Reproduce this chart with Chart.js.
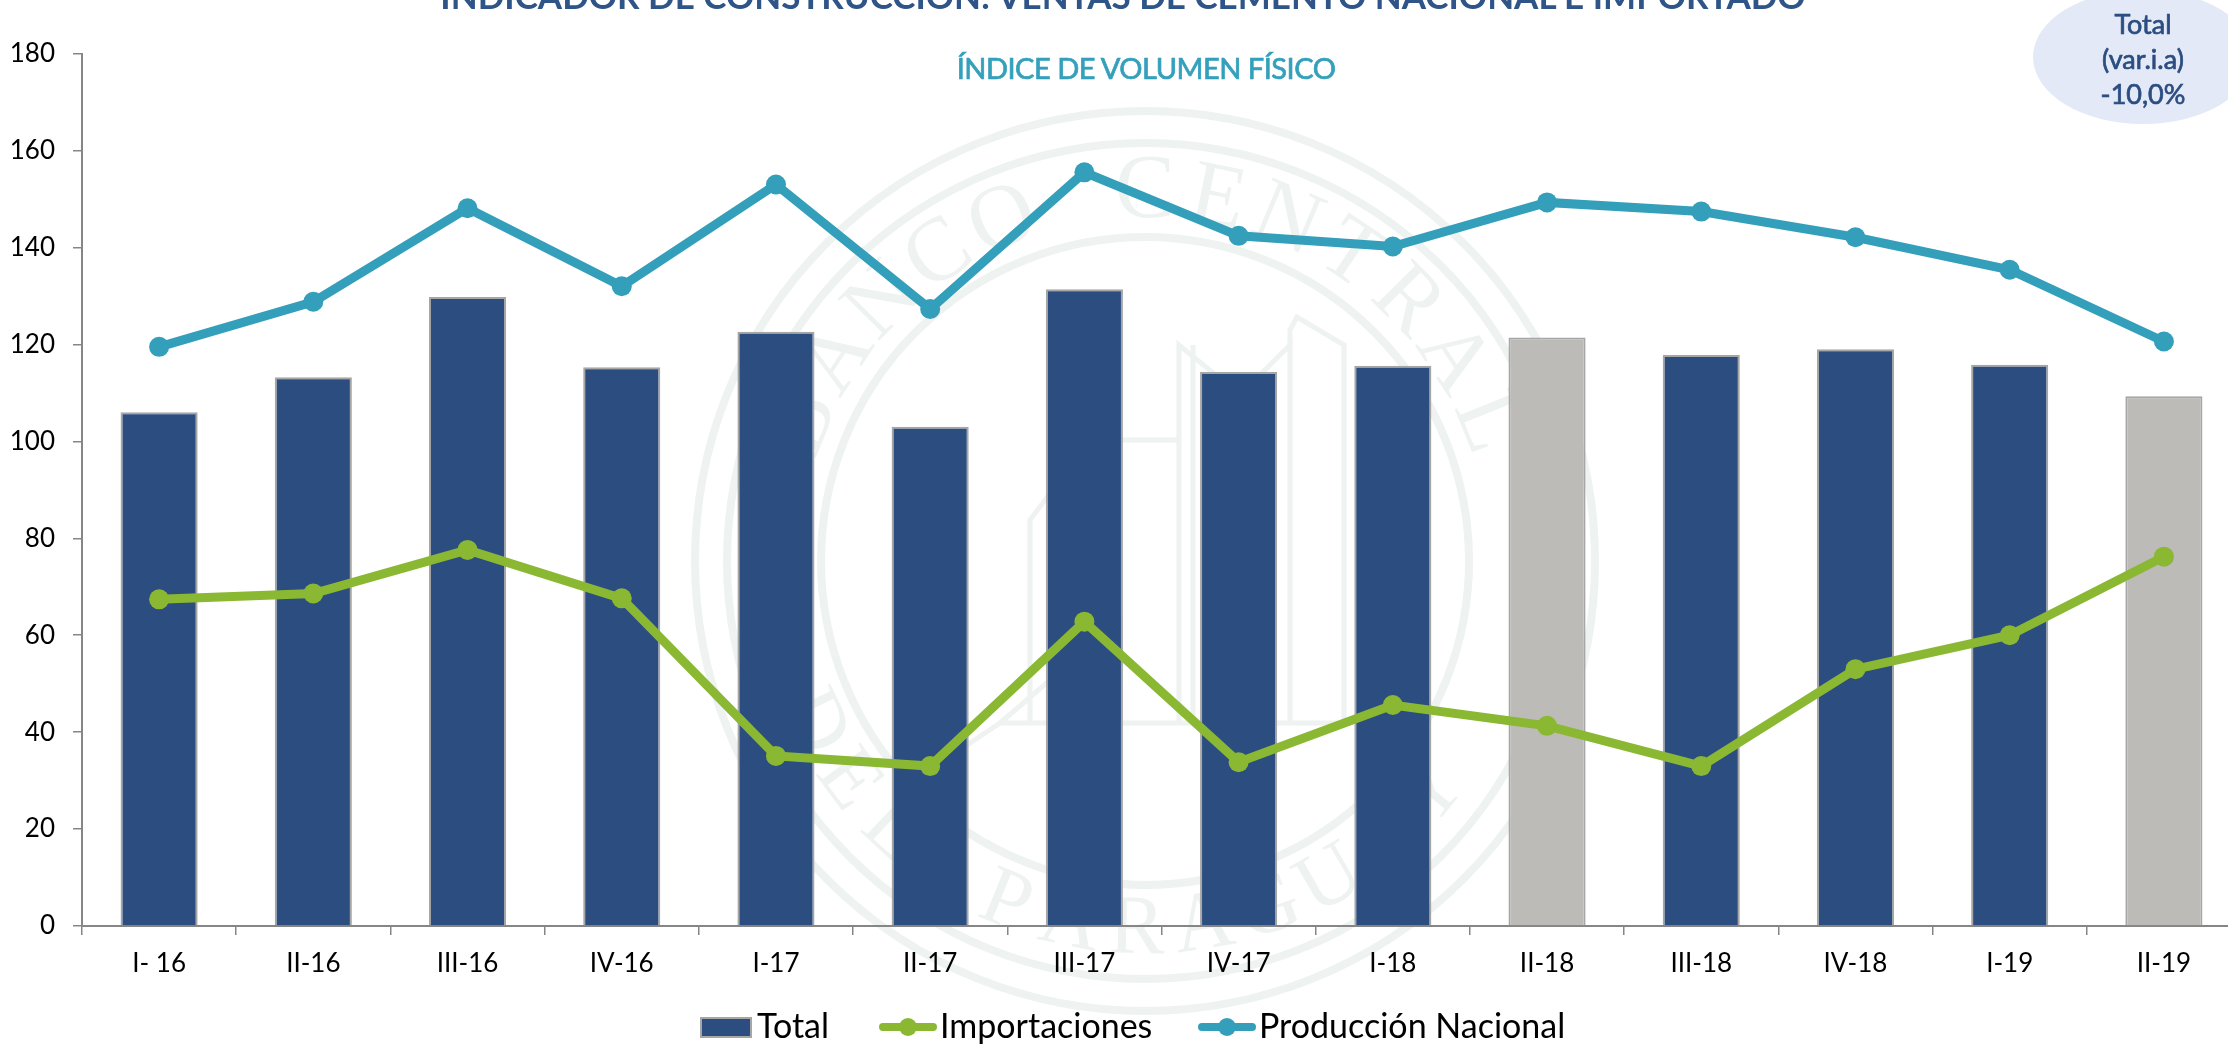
<!DOCTYPE html>
<html lang="es">
<head>
<meta charset="utf-8">
<title>Indicador de construcción</title>
<script src="https://cdn.jsdelivr.net/npm/chart.js@4"></script>
<style>
html,body{margin:0;padding:0;background:#fff;width:2228px;height:1047px;overflow:hidden}
#wrap{position:relative;width:2228px;height:1047px;overflow:hidden}
#c{position:absolute;left:0;top:0;width:2274px;height:1047px}
.t{position:absolute;white-space:nowrap;font-family:Lato,sans-serif}
#title{left:423px;width:1400px;top:-25px;text-align:center;font-size:35px;line-height:40px;font-weight:700;color:#2F5487}
#sub{left:935px;width:422px;top:50px;text-align:center;font-size:29px;line-height:36px;font-weight:400;color:#34A0BC;letter-spacing:-.5px;-webkit-text-stroke:.7px #34A0BC}
#oval{position:absolute;left:2033px;top:-10px;width:220px;height:134px;border-radius:50%;background:#E3E9F6}
#call{left:2063px;width:160px;top:6px;text-align:center;font-size:27px;line-height:35px;font-weight:400;color:#2C4D80;-webkit-text-stroke:.7px #2C4D80}
.lg{position:absolute;top:1003px;font-family:Lato,sans-serif;font-size:34px;line-height:44px;color:#000;white-space:nowrap}
.sw{position:absolute;background:#2C4D80;border:2px solid #A6A6A6;box-sizing:border-box;left:700px;top:1017px;width:52px;height:21px}
.ln{position:absolute;top:1023px;height:8px;width:58px;border-radius:4px}
.dt{position:absolute;top:1018px;width:18px;height:18px;border-radius:50%}
</style>
</head>
<body>
<div id="wrap">
  <canvas id="c" width="2274" height="1047"></canvas>
  <div id="oval"></div>
  <div class="t" id="title">INDICADOR DE CONSTRUCCIÓN: VENTAS DE CEMENTO NACIONAL E IMPORTADO</div>
  <div class="t" id="sub">ÍNDICE DE VOLUMEN FÍSICO</div>
  <div class="t" id="call">Total<br>(var.i.a)<br>-10,0%</div>
  <div class="sw"></div><span class="lg" style="left:757px">Total</span>
  <div class="ln" style="left:879px;background:#8AB833"></div><div class="dt" style="left:899px;background:#8AB833"></div>
  <span class="lg" style="left:940px">Importaciones</span>
  <div class="ln" style="left:1198px;background:#339FBA"></div><div class="dt" style="left:1218px;background:#339FBA"></div>
  <span class="lg" style="left:1259px">Producción Nacional</span>
</div>
<script>
const categories = ["I- 16","II-16","III-16","IV-16","I-17","II-17","III-17","IV-17","I-18","II-18","III-18","IV-18","I-19","II-19"];
const total = [106,113.2,129.8,115.3,122.6,103,131.4,114.3,115.6,121.4,117.8,119,115.8,109.3];
const importaciones = [67.4,68.6,77.6,67.6,35.1,33,62.8,33.8,45.6,41.3,33,53,60,76.2];
const produccion = [119.5,128.8,148.1,132,153,127.3,155.5,142.4,140.2,149.3,147.4,142.1,135.4,120.6];

const BLUE='#2C4D80', GREY='#BDBBB7', EDGE='#A6A6A6', GREEN='#8AB833', TEAL='#339FBA';
const barColors = categories.map((c,i)=> (i===9||i===13) ? GREY : BLUE);

const seal = {
  id:'seal',
  beforeDraw(chart){
    const c=chart.ctx, cx=1145, cy=561;
    c.save();
    c.strokeStyle='#EEF2F1';c.fillStyle='#EEF2F1';c.lineJoin='miter';
    c.lineWidth=8;
    [450,418,324].forEach(r=>{c.beginPath();c.arc(cx,cy,r,0,Math.PI*2);c.stroke();});
    c.lineWidth=5;
    const polys=[
      [[1030,723],[1030,520],[1090,440],[1180,440]],
      [[1179,723],[1179,345],[1240,395],[1290,345],[1290,723]],
      [[1290,345],[1290,330],[1297,317],[1344,345],[1344,723]],
      [[1120,723],[1120,620],[1000,723]],
      [[1000,723],[900,790]],
      [[1000,723],[1344,723]],
      [[1193,345],[1193,723]]
    ];
    polys.forEach(p=>{c.beginPath();p.forEach((q,i)=>i?c.lineTo(q[0],q[1]):c.moveTo(q[0],q[1]));c.stroke();});
    c.font='90px "Liberation Serif"';c.textAlign='center';c.textBaseline='alphabetic';
    const topWord='BANCO CENTRAL', botWord='DEL PARAGUAY';
    const a0=-158, a1=-22;
    [...topWord].forEach((ch,i)=>{
      const a=(a0+(a1-a0)*i/(topWord.length-1))*Math.PI/180;
      c.save();c.translate(cx+344*Math.cos(a),cy+344*Math.sin(a));c.rotate(a+Math.PI/2);c.fillText(ch,0,0);c.restore();
    });
    c.font='84px "Liberation Serif"';
    const b0=154, b1=39;
    [...botWord].forEach((ch,i)=>{
      const a=(b0+(b1-b0)*i/(botWord.length-1))*Math.PI/180;
      c.save();c.translate(cx+392*Math.cos(a),cy+392*Math.sin(a));c.rotate(a-Math.PI/2);c.fillText(ch,0,0);c.restore();
    });
    c.restore();
  }
};

new Chart(document.getElementById('c'),{
  type:'bar',
  plugins:[seal],
  data:{labels:categories,datasets:[
    {type:'bar',label:'Total',data:total,backgroundColor:barColors,borderColor:EDGE,borderWidth:2,borderSkipped:'bottom',barPercentage:0.5,categoryPercentage:1,order:3},
    {type:'line',label:'Importaciones',data:importaciones,borderColor:GREEN,backgroundColor:GREEN,borderWidth:9,pointRadius:10,pointHoverRadius:10,pointBorderWidth:0,tension:0,order:2},
    {type:'line',label:'Producción Nacional',data:produccion,borderColor:TEAL,backgroundColor:TEAL,borderWidth:9,pointRadius:10,pointHoverRadius:10,pointBorderWidth:0,tension:0,order:1}
  ]},
  options:{
    responsive:false,animation:false,devicePixelRatio:1,
    layout:{padding:{top:53.6,left:0,right:33,bottom:61}},
    plugins:{title:{display:false},tooltip:{enabled:false},legend:{display:false}},
    scales:{
      x:{
        afterFit(s){s.height=60;},
        border:{color:'#868686',width:2},
        grid:{display:true,drawOnChartArea:false,drawTicks:true,tickLength:9,color:'#868686',lineWidth:1.5,offset:true},
        ticks:{font:{family:'Lato',size:26},color:'#000',padding:13,maxRotation:0,autoSkip:false}
      },
      y:{
        min:0,max:180,
        afterFit(s){s.width=82;},
        border:{color:'#868686',width:2},
        grid:{display:true,drawOnChartArea:false,drawTicks:true,tickLength:9,color:'#868686',lineWidth:1.5},
        ticks:{stepSize:20,font:{family:'Lato',size:26},color:'#000',padding:18}
      }
    }
  }
});
</script>
</body>
</html>
